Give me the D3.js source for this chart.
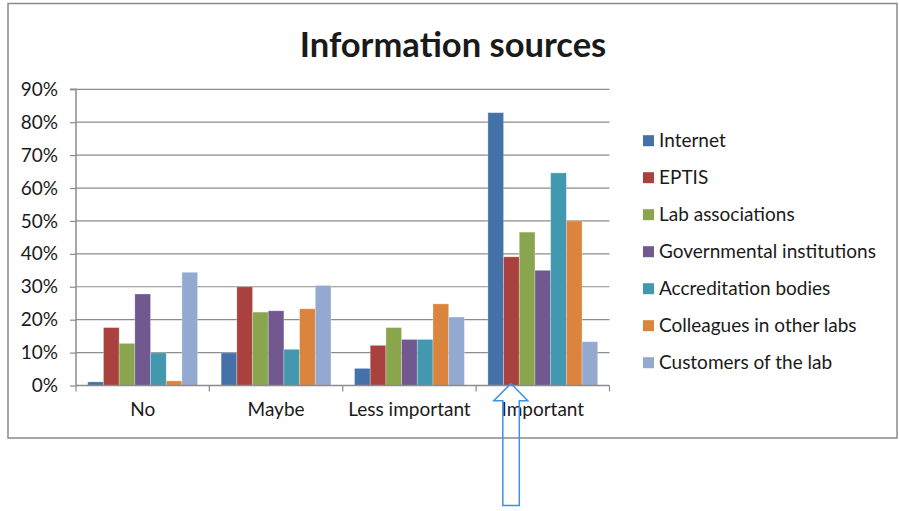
<!DOCTYPE html>
<html>
<head>
<meta charset="utf-8">
<script src="https://cdn.jsdelivr.net/npm/d3@7"></script>
<style>
  html, body { margin: 0; padding: 0; background: #ffffff; }
  svg { display: block; }
  text { font-family: Lato, "Open Sans", sans-serif; fill: #1a1a1a; }
</style>
</head>
<body>
<svg id="chart" width="899" height="511"></svg>
<script>
const categories = ["No", "Maybe", "Less important", "Important"];
const seriesNames = ["Internet", "EPTIS", "Lab associations", "Governmental institutions",
                     "Accreditation bodies", "Colleagues in other labs", "Customers of the lab"];
const internet    = [0.011, 0.099, 0.052, 0.829];
const eptis       = [0.176, 0.300, 0.122, 0.391];
const labAssoc    = [0.128, 0.223, 0.176, 0.466];
const government  = [0.278, 0.227, 0.140, 0.350];
const accred      = [0.099, 0.110, 0.140, 0.646];
const colleagues  = [0.014, 0.233, 0.248, 0.500];
const customers   = [0.344, 0.304, 0.208, 0.133];
const seriesValues = [internet, eptis, labAssoc, government, accred, colleagues, customers];
const colors = ["#4472A8", "#A9423F", "#89A54E", "#71588F", "#4198AF", "#DB843D", "#93A9CF"];
const yTicks = [0, 0.1, 0.2, 0.3, 0.4, 0.5, 0.6, 0.7, 0.8, 0.9];
const title = "Information sources";

const svg = d3.select("#chart");

// outer frame
svg.append("rect").attr("x", 8).attr("y", 3.5).attr("width", 889).attr("height", 434.5)
  .attr("fill", "#fff").attr("stroke", "#8a8a8a").attr("stroke-width", 1.5);

const plot = { left: 76, right: 609.5, top: 89.3, bottom: 385.5 };

const x0 = d3.scaleBand().domain(categories).range([plot.left, plot.right]).padding(0);
const bw = x0.bandwidth();
const gap = bw * 0.75 / 8.5;
const x1 = d3.scaleBand().domain(seriesNames).range([gap, bw - gap]).padding(0);
const y = d3.scaleLinear().domain([0, 0.9]).range([plot.bottom, plot.top]);

// gridlines
svg.append("g").selectAll("line").data(yTicks.slice(1)).join("line")
  .attr("x1", plot.left).attr("x2", plot.right)
  .attr("y1", d => y(d)).attr("y2", d => y(d))
  .attr("stroke", "#8c8c8c").attr("stroke-width", 1.2);

// bars
const data = [];
categories.forEach((c, ci) => seriesNames.forEach((s, si) =>
  data.push({ c, s, si, v: seriesValues[si][ci] })));
svg.append("g").selectAll("rect").data(data).join("rect")
  .attr("x", d => x0(d.c) + x1(d.s))
  .attr("y", d => y(d.v))
  .attr("width", x1.bandwidth())
  .attr("height", d => y(0) - y(d.v))
  .attr("fill", d => colors[d.si])
  .attr("stroke", "rgba(255,255,255,0.35)").attr("stroke-width", 0.8);

// y axis
const yAxis = d3.axisLeft(y).tickValues(yTicks).tickFormat(d3.format(".0%")).tickSize(6).tickPadding(12);
const gy = svg.append("g").attr("transform", `translate(${plot.left},0)`).call(yAxis);
gy.select(".domain").attr("stroke", "#8c8c8c").attr("stroke-width", 1.5).attr("d", `M-6,${plot.top}H0V${plot.bottom}`);
gy.selectAll(".tick line").attr("stroke", "#8c8c8c").attr("stroke-width", 1.2);
gy.selectAll(".tick text").attr("font-size", 19).attr("font-family", "Lato, sans-serif").attr("fill", "#1a1a1a");

// x axis
const xAxis = d3.axisBottom(x0).tickSize(0).tickPadding(17);
const gx = svg.append("g").attr("transform", `translate(0,${plot.bottom})`).call(xAxis);
gx.select(".domain").attr("stroke", "#8c8c8c").attr("stroke-width", 1.5).attr("d", `M${plot.left},0H${plot.right}`);
gx.selectAll(".tick text").attr("font-size", 19).attr("font-family", "Lato, sans-serif").attr("fill", "#1a1a1a");
const bounds = categories.map(c => x0(c)).concat([plot.right]);
gx.append("g").selectAll("line").data(bounds).join("line")
  .attr("x1", d => d).attr("x2", d => d).attr("y1", 0).attr("y2", 6)
  .attr("stroke", "#8c8c8c").attr("stroke-width", 1.2);

// title
svg.append("text").attr("x", 453).attr("y", 57).attr("text-anchor", "middle")
  .attr("font-size", 34.5).attr("font-weight", "bold").text(title);

// legend
const lg = svg.append("g").attr("transform", "translate(643,140.7)");
const items = lg.selectAll("g").data(seriesNames).join("g")
  .attr("transform", (d, i) => `translate(0,${i * 37})`);
items.append("rect").attr("x", 0).attr("y", -5.5).attr("width", 11).attr("height", 11)
  .attr("fill", (d, i) => colors[i]);
items.append("text").attr("x", 16).attr("y", 0).attr("dy", "0.35em")
  .attr("font-size", 19).text(d => d);

// annotation arrow pointing up at the "Important" group
const tipX = x0("Important") + bw * 0.26;
const arrow = d3.path();
arrow.moveTo(tipX, 383.5);
arrow.lineTo(tipX + 17, 400.7);
arrow.lineTo(tipX + 8.5, 400.7);
arrow.lineTo(tipX + 8.5, 505.5);
arrow.lineTo(tipX - 8, 505.5);
arrow.lineTo(tipX - 8, 400.7);
arrow.lineTo(tipX - 17, 400.7);
arrow.closePath();
svg.append("path").attr("d", arrow.toString()).attr("fill", "none")
  .attr("stroke", "#3d8fe8").attr("stroke-width", 1.5);
</script>
</body>
</html>
